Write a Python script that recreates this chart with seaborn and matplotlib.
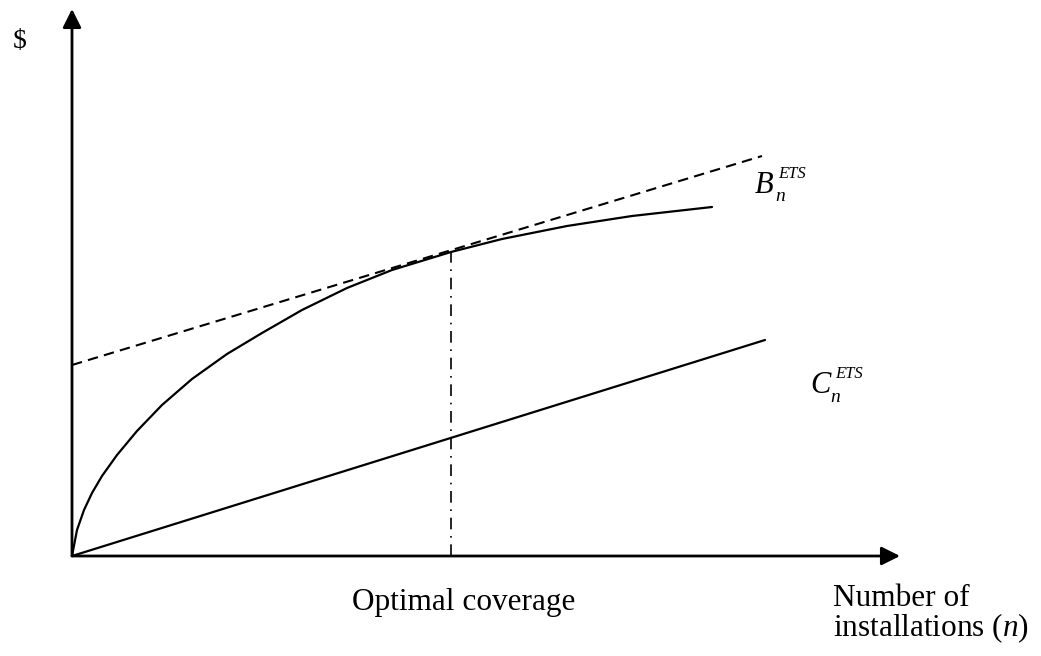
import seaborn as sns
import pandas as pd
import matplotlib.pyplot as plt

# benefit curve B_n
n_benefit = [0, 0.5, 1.2, 2.0, 3.0, 4.5, 6.5, 9.0, 12.0, 15.5, 19.0, 23.0,
             27.5, 32.0, 37.9, 43.0, 49.5, 56.0, 64.0]
benefit = [0, 2.6, 4.6, 6.3, 8.0, 10.1, 12.5, 15.1, 17.7, 20.2, 22.3, 24.6,
           26.8, 28.6, 30.4, 31.7, 33.0, 34.0, 34.9]

# tangent (dashed) and cost line C_n
n_tangent = [0, 69.0]
tangent = [19.1, 40.0]
n_cost = [0, 69.3]
cost = [0, 21.6]

# optimal coverage marker
n_opt = [37.9, 37.9]
opt = [0, 30.4]

x_axis_end = 82.8
y_axis_end = 54.7

sns.set_style("white")
plt.rcParams['font.family'] = ['Liberation Serif', 'DejaVu Serif']
plt.rcParams['text.color'] = 'black'
plt.rcParams['mathtext.fontset'] = 'custom'
plt.rcParams['mathtext.rm'] = 'Liberation Serif'
plt.rcParams['mathtext.it'] = 'Liberation Serif:italic'

fig = plt.figure(figsize=(10.41, 6.56), dpi=100)
ax = fig.add_axes([0, 0, 1, 1])

df = pd.DataFrame({"n": n_benefit, "value": benefit})
sns.lineplot(data=df, x="n", y="value", ax=ax, color="black", lw=1.6,
             sort=False, estimator=None)
sns.lineplot(x=n_tangent, y=tangent, ax=ax, color="black", lw=1.5,
             estimator=None, linestyle=(0, (5, 3)))
sns.lineplot(x=n_cost, y=cost, ax=ax, color="black", lw=1.6, estimator=None)
sns.lineplot(x=n_opt, y=opt, ax=ax, color="black", lw=1.2, sort=False,
             estimator=None, linestyle=(0, (7, 4, 1, 4)))

arrow = dict(arrowstyle='-|>', color='black', lw=2, mutation_scale=28,
             shrinkA=0, shrinkB=0)
ax.annotate('', xy=(x_axis_end, 0), xytext=(0, 0), arrowprops=arrow)
ax.annotate('', xy=(0, y_axis_end), xytext=(0, 0), arrowprops=arrow)

ax.text(-5.2, 51.4, '$', fontsize=20, ha='center', va='center')
ax.text(28.0, -5.4, 'Optimal coverage', fontsize=22.5, ha='left', va='baseline')
ax.text(76.1, -8.0, 'Number of\ninstallations ($n$)', fontsize=22.5,
        ha='left', va='baseline', linespacing=0.93)

# curve labels: main letter, subscript n, superscript ETS
ax.text(68.3, 36.3, 'B', fontsize=22, style='italic', ha='left', va='baseline')
ax.text(70.3, 35.5, 'n', fontsize=14, style='italic', ha='left', va='baseline')
ax.text(70.6, 37.8, 'ETS', fontsize=12, style='italic', ha='left', va='baseline')
ax.text(73.8, 16.3, 'C', fontsize=22, style='italic', ha='left', va='baseline')
ax.text(75.8, 15.4, 'n', fontsize=14, style='italic', ha='left', va='baseline')
ax.text(76.3, 17.8, 'ETS', fontsize=12, style='italic', ha='left', va='baseline')

ax.set_xlim(-7.2, 96.9)
ax.set_ylim(-10.0, 55.6)
ax.axis('off')

fig.savefig("out.png", dpi=100)
